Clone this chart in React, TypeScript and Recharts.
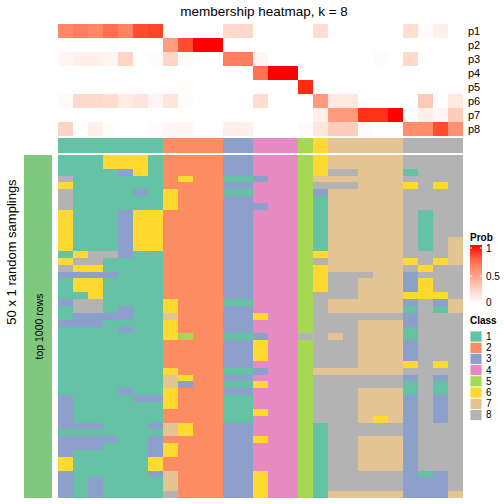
import React from 'react';
import { BarChart, Bar, XAxis, YAxis, Cell } from 'recharts';

const classColors = ['#66C2A5', '#FC8D62', '#8DA0CB', '#E78AC3', '#A6D854', '#FFD92F', '#E5C494', '#B3B3B3'];
const classLabels = ['1', '2', '3', '4', '5', '6', '7', '8'];

// class of each of the 27 columns
const columnClass = [1, 1, 1, 1, 1, 1, 1, 2, 2, 2, 2, 3, 3, 4, 4, 4, 5, 6, 7, 7, 7, 7, 7, 8, 8, 8, 8];

// membership probabilities per column
const p1 = [0.6, 0.65, 0.6, 0.72, 0.63, 0.85, 0.88, 0, 0, 0, 0, 0.2, 0.2, 0, 0, 0, 0, 0.18, 0, 0, 0, 0, 0, 0.18, 0.01, 0.08, 0];
const p2 = [0, 0, 0, 0, 0, 0, 0, 0.5, 0.85, 1, 1, 0, 0, 0, 0, 0, 0, 0, 0, 0, 0, 0, 0, 0, 0, 0, 0];
const p3 = [0.05, 0.08, 0.08, 0.05, 0.22, 0, 0.02, 0.22, 0.02, 0, 0, 0.65, 0.65, 0.05, 0, 0, 0, 0, 0, 0, 0, 0.02, 0, 0.2, 0, 0, 0];
const p4 = [0, 0, 0, 0, 0, 0, 0, 0, 0, 0, 0, 0, 0, 0.7, 1, 1, 0, 0, 0, 0, 0, 0, 0, 0, 0, 0, 0];
const p5 = [0, 0, 0, 0, 0, 0, 0, 0, 0.01, 0, 0, 0, 0, 0, 0, 0, 0.95, 0, 0, 0, 0, 0, 0, 0, 0, 0, 0];
const p6 = [0.03, 0.2, 0.2, 0.18, 0.1, 0.13, 0.04, 0.14, 0.02, 0, 0, 0, 0, 0.18, 0, 0, 0, 0.52, 0.12, 0.12, 0, 0, 0, 0, 0.28, 0, 0.11];
const p7 = [0, 0, 0, 0, 0, 0, 0, 0, 0, 0, 0, 0, 0, 0, 0, 0, 0, 0.08, 0.52, 0.52, 0.93, 0.93, 1, 0, 0.08, 0.04, 0.26];
const p8 = [0.23, 0, 0.08, 0.01, 0, 0, 0.02, 0.04, 0.05, 0, 0, 0.08, 0.08, 0, 0, 0, 0.02, 0.13, 0.26, 0.26, 0.02, 0, 0, 0.58, 0.58, 0.85, 0.57];

const probNames = ['p1', 'p2', 'p3', 'p4', 'p5', 'p6', 'p7', 'p8'];
const probValues = [p1, p2, p3, p4, p5, p6, p7, p8];

// 50 random samplings, class per column (top row first)
const samplingRows = [
  '1116661 2222 33 444 5 6 77777 8888',
  '1116661 2222 33 444 5 6 77777 8888',
  '1111361 2222 33 444 5 6 88777 1888',
  '8111111 2622 11 344 5 7 77777 8888',
  '6111111 2222 33 444 5 8 88777 6868',
  '8111131 6222 11 444 5 3 77777 8888',
  '8111111 6222 33 444 5 1 77777 8888',
  '8111111 6222 33 344 5 1 77777 8888',
  '6111366 2222 33 444 5 1 77777 8188',
  '6111366 2222 33 444 5 1 77777 8188',
  '6111366 2222 33 444 5 1 77777 8188',
  '6111366 2222 33 444 5 1 77777 8188',
  '6111366 2222 33 444 5 1 77777 8187',
  '6111366 2222 33 444 5 1 77777 8187',
  '1688311 2222 33 444 5 6 77777 8887',
  '6881111 2222 33 444 5 8 77777 6867',
  '8661111 2222 33 444 5 6 77777 8688',
  '3333111 2222 33 444 5 6 88877 3888',
  '1661111 2222 33 444 5 6 88777 3688',
  '1661111 2222 33 444 5 6 88777 3688',
  '1161111 2222 33 444 5 8 88777 6668',
  '3881111 6222 11 444 5 8 77777 3837',
  '1881311 6222 33 444 5 8 77777 1817',
  '1333311 7222 33 644 5 8 88888 3888',
  '3331111 6222 33 444 5 8 88777 3888',
  '1111311 6222 33 444 5 8 88777 1888',
  '1111111 6522 11 344 8 8 78777 1888',
  '1111111 2222 33 644 5 8 88777 3888',
  '1111111 2222 33 644 5 8 88777 3888',
  '1111111 2222 33 644 5 8 88777 3888',
  '1111111 2222 33 444 5 8 88777 6868',
  '1111111 6222 11 344 5 7 77777 8888',
  '1111111 7622 33 444 5 8 88888 3838',
  '1111111 7322 11 644 5 8 88888 1818',
  '1111311 6222 33 444 5 8 88777 1818',
  '3111133 6222 11 444 5 8 88777 3838',
  '3111111 6222 11 444 5 8 88777 3838',
  '3111111 2222 11 644 5 8 88777 3838',
  '3111111 2222 11 444 5 8 88767 3838',
  '3331113 7622 33 444 5 1 88888 3888',
  '1111111 7622 33 444 5 1 88888 3888',
  '3333113 2222 33 644 5 1 88777 3888',
  '3331113 6222 33 444 5 1 88777 3888',
  '3111113 6222 33 444 5 1 88777 3888',
  '6111116 2222 33 444 5 1 88777 3888',
  '6111116 2222 33 444 5 1 88777 3888',
  '3111113 7222 33 644 5 1 88888 3138',
  '3131111 7222 33 644 5 1 88888 3338',
  '3131111 7222 33 644 5 1 88888 3338',
  '3131111 8222 33 644 5 1 77777 3337',
];

const columns = columnClass.map((_, i) => `S${i + 1}`);
const samplingGrid = samplingRows.map((s) => s.replace(/ /g, '').split('').map(Number));
const samplingNames = samplingRows.map((_, i) => `r${i + 1}`);

// white -> red in Lab space
function probColor(t: number) {
  const L = 100 + (53.24 - 100) * t;
  const A = 80.09 * t;
  const B = 67.2 * t;
  const fy = (L + 16) / 116;
  const fx = fy + A / 500;
  const fz = fy - B / 200;
  const inv = (f: number) => (f ** 3 > 0.008856 ? f ** 3 : (f - 16 / 116) / 7.787);
  const X = 0.95047 * inv(fx);
  const Y = inv(fy);
  const Z = 1.08883 * inv(fz);
  const lin = [
    3.2406 * X - 1.5372 * Y - 0.4986 * Z,
    -0.9689 * X + 1.8758 * Y + 0.0415 * Z,
    0.0557 * X - 0.204 * Y + 1.057 * Z,
  ];
  const [r, g, b] = lin.map((c) => {
    const v = c <= 0.0031308 ? 12.92 * c : 1.055 * Math.pow(c, 1 / 2.4) - 0.055;
    return Math.round(255 * Math.min(1, Math.max(0, v)));
  });
  return `rgb(${r},${g},${b})`;
}

const probTable = columns.map((col) => ({ col, ...Object.fromEntries(probNames.map((n) => [n, 1])) }));
const classTable = columns.map((col) => ({ col, Class: 1 }));
const samplingTable = columns.map((col) => ({ col, ...Object.fromEntries(samplingNames.map((n) => [n, 1])) }));

const font = '"Liberation Sans", Arial, sans-serif';
const labelTick = { fill: '#000', fontSize: 11 };
// 27 columns * 15px -> plot from x=58 to x=463
const rightSpace = 41;

export default function App() {
  return (
    <div style={{ position: 'absolute', left: 0, top: 0, width: 504, height: 504, background: '#fff', fontFamily: font }}>
      <svg width={504} height={504} style={{ position: 'absolute', left: 0, top: 0 }}>
        <text x={264} y={16} textAnchor="middle" fontSize={13.5}>membership heatmap, k = 8</text>
        <text transform="translate(15.5,252) rotate(-90)" textAnchor="middle" fontSize={13}>50 x 1 random samplings</text>
        <rect x={24} y={155} width={28} height={343} fill="#7FC97F" />
        <text transform="translate(42.5,326.5) rotate(-90)" textAnchor="middle" fontSize={10.5}>top 1000 rows</text>

        <defs>
          <linearGradient id="probGrad" x1="0" y1="1" x2="0" y2="0">
            {[0, 0.25, 0.5, 0.75, 1].map((t) => (
              <stop key={t} offset={t} stopColor={probColor(t)} />
            ))}
          </linearGradient>
        </defs>
        <text x={470} y={241} fontSize={10} fontWeight="bold">Prob</text>
        <rect x={470} y={245} width={12} height={58} fill="url(#probGrad)" />
        {[['1', 248], ['0.5', 276], ['0', 302]].map(([l, y]) => (
          <g key={l as string}>
            <line x1={470} x2={472} y1={y as number} y2={y as number} stroke="#fff" />
            <line x1={480} x2={482} y1={y as number} y2={y as number} stroke="#fff" />
            <text x={486} y={(y as number) + 3.5} fontSize={10}>{l}</text>
          </g>
        ))}
        <text x={470} y={324} fontSize={10} fontWeight="bold">Class</text>
        {classLabels.map((l, i) => (
          <g key={l}>
            <rect x={470} y={331 + i * 11.2} width={12} height={11.2} fill={classColors[i]} stroke="#fff" strokeWidth={0.8} />
            <text x={486} y={331 + i * 11.2 + 9} fontSize={10}>{l}</text>
          </g>
        ))}
      </svg>

      <div style={{ position: 'absolute', left: 0, top: 0 }}>
        <BarChart width={504} height={136} data={probTable} margin={{ top: 24, right: 0, bottom: 0, left: 58 }} barCategoryGap={0} barGap={0}>
          <XAxis dataKey="col" hide />
          <YAxis
            orientation="right"
            type="number"
            domain={[0, 8]}
            ticks={[7.5, 6.5, 5.5, 4.5, 3.5, 2.5, 1.5, 0.5]}
            tickFormatter={(v: number) => probNames[Math.round(7.5 - v)]}
            width={rightSpace}
            tickLine={false}
            axisLine={false}
            tickSize={0}
            tickMargin={5}
            interval={0}
            tick={labelTick}
          />
          {[...probNames].reverse().map((n) => {
            const vals = probValues[probNames.indexOf(n)];
            return (
              <Bar key={n} dataKey={n} stackId="p" isAnimationActive={false}>
                {columns.map((c, i) => (
                  <Cell key={c} fill={probColor(vals[i])} shapeRendering="crispEdges" />
                ))}
              </Bar>
            );
          })}
        </BarChart>
      </div>

      <div style={{ position: 'absolute', left: 0, top: 138 }}>
        <BarChart width={504} height={15} data={classTable} margin={{ top: 0, right: 0, bottom: 0, left: 58 }} barCategoryGap={0} barGap={0}>
          <XAxis dataKey="col" hide />
          <YAxis
            orientation="right"
            type="number"
            domain={[0, 1]}
            ticks={[0.5]}
            tickFormatter={() => 'Class'}
            width={rightSpace}
            tickLine={false}
            axisLine={false}
            tickSize={0}
            tickMargin={5}
            tick={labelTick}
          />
          <Bar dataKey="Class" isAnimationActive={false}>
            {columns.map((c, i) => (
              <Cell key={c} fill={classColors[columnClass[i] - 1]} shapeRendering="crispEdges" />
            ))}
          </Bar>
        </BarChart>
      </div>

      <div style={{ position: 'absolute', left: 0, top: 155 }}>
        <BarChart width={504} height={343} data={samplingTable} margin={{ top: 0, right: rightSpace, bottom: 0, left: 58 }} barCategoryGap={0} barGap={0}>
          <XAxis dataKey="col" hide />
          <YAxis type="number" domain={[0, 50]} hide />
          {[...samplingNames].reverse().map((n) => {
            const row = samplingGrid[samplingNames.indexOf(n)];
            return (
              <Bar key={n} dataKey={n} stackId="s" isAnimationActive={false}>
                {columns.map((c, i) => (
                  <Cell key={c} fill={classColors[row[i] - 1]} shapeRendering="crispEdges" />
                ))}
              </Bar>
            );
          })}
        </BarChart>
      </div>
    </div>
  );
}
